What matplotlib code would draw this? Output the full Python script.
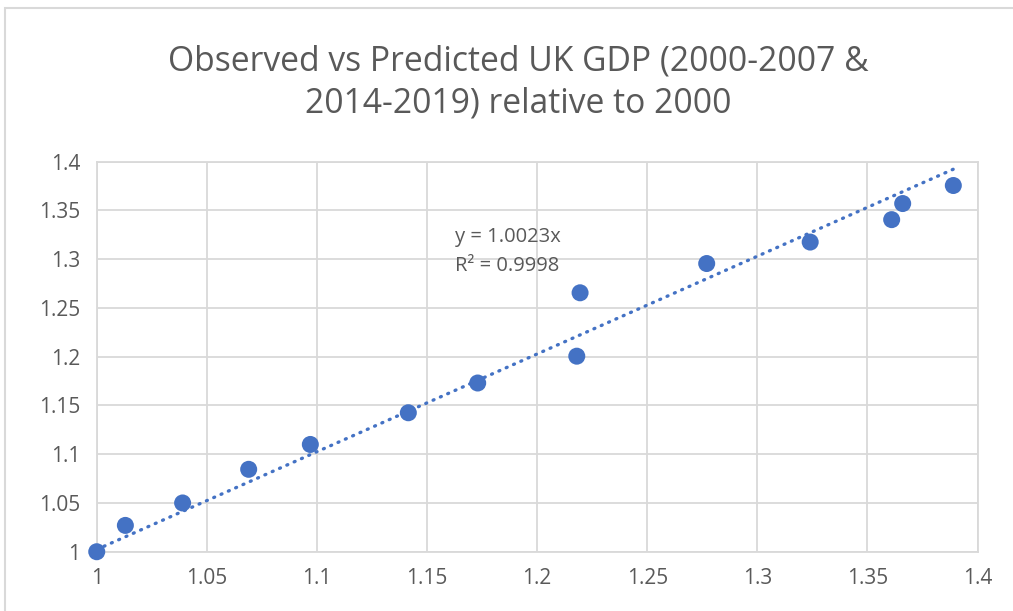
import matplotlib.pyplot as plt
from matplotlib.patches import Rectangle
import numpy as np

# observed vs predicted GDP, relative to 2000
predicted = [1.000, 1.013, 1.039, 1.069, 1.097, 1.1415, 1.173, 1.218, 1.2195, 1.277, 1.324, 1.361, 1.366, 1.389]
observed = [1.000, 1.027, 1.050, 1.0845, 1.110, 1.1425, 1.173, 1.2005, 1.2655, 1.2955, 1.3175, 1.3405, 1.357, 1.3755]
slope = 1.0023
r2 = 0.9998
ticks = [1, 1.05, 1.1, 1.15, 1.2, 1.25, 1.3, 1.35, 1.4]

blue = '#4472C4'
grey_txt = '#595959'
grid_c = '#D9D9D9'

plt.rcParams['font.family'] = ['Open Sans', 'DejaVu Sans']

fig = plt.figure(figsize=(10.13, 6.11), dpi=100)
ax = fig.add_axes([0.0955, 0.097, 0.8695, 0.6385])

# trendline through origin
tx = np.array([min(predicted), max(predicted)])
ax.plot(tx, slope * tx, color=blue, lw=2.4, linestyle=(0, (0.3, 2.1)),
        dash_capstyle='round', zorder=2)
ax.scatter(predicted, observed, s=150, color=blue, edgecolor='none', zorder=3,
           clip_on=False)

ax.set_xlim(1, 1.4)
ax.set_ylim(1, 1.4)
ax.set_xticks(ticks)
ax.set_yticks(ticks)
ax.set_xticklabels(['%g' % t for t in ticks])
ax.set_yticklabels(['%g' % t for t in ticks])
ax.grid(True, color=grid_c, lw=1.3)
ax.set_axisbelow(True)
for s in ax.spines.values():
    s.set_color(grid_c)
    s.set_linewidth(1.3)
ax.tick_params(length=0, labelsize=15, labelcolor=grey_txt, pad=12)

ax.text(1.1625, 1.3075, 'y = %.4fx\nR² = %.4f' % (slope, r2), fontsize=14.5,
        color=grey_txt, va='center', ha='left', linespacing=1.6)

fig.text(0.512, 0.8645, 'Observed vs Predicted UK GDP (2000-2007 &\n2014-2019) relative to 2000',
         ha='center', va='center', fontsize=24.2, color=grey_txt, linespacing=1.3)

# chart border
fig.patches.append(Rectangle((5 / 1013, -0.05), 1.2, 1 - 8 / 611 + 0.05,
                             transform=fig.transFigure, fill=False,
                             edgecolor=grid_c, lw=1.5))

fig.savefig('out.png', dpi=100)
